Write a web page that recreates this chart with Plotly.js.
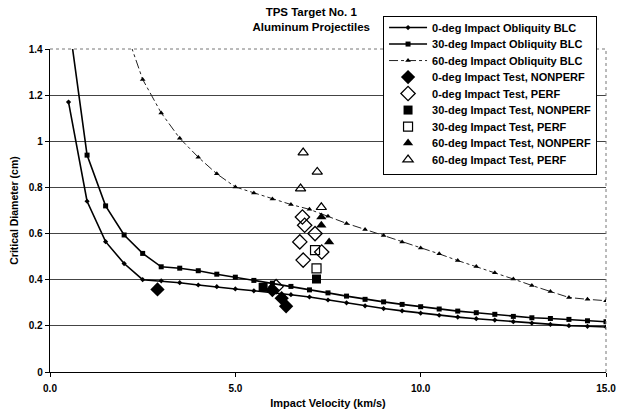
<!DOCTYPE html>
<html>
<head>
<meta charset="utf-8">
<script src="https://cdn.plot.ly/plotly-3.0.1.min.js"></script>
<style>html,body{margin:0;padding:0;background:#fff;}#chart{width:620px;height:412px;}</style>
</head>
<body>
<div id="chart"></div>
<script>
var blcVel = [0.5,1,1.5,2,2.5,3,3.5,4,4.5,5,5.5,6,6.5,7,7.5,8,8.5,9,9.5,10,10.5,11,11.5,12,12.5,13,13.5,14,14.5,15];
var blc0 = [1.17,0.74,0.565,0.47,0.40,0.395,0.387,0.377,0.37,0.36,0.352,0.345,0.335,0.325,0.312,0.30,0.287,0.275,0.265,0.255,0.246,0.238,0.231,0.225,0.218,0.212,0.206,0.201,0.198,0.195];
var blc30 = [1.53,0.94,0.72,0.594,0.514,0.456,0.45,0.439,0.424,0.411,0.397,0.385,0.371,0.356,0.343,0.329,0.315,0.304,0.293,0.283,0.273,0.264,0.257,0.25,0.241,0.235,0.232,0.228,0.222,0.218];
var blc60Vel = [2,2.5,3,3.5,4,4.5,5,5.5,6,6.5,7,7.5,8,8.5,9,9.5,10,10.5,11,11.5,12,12.5,13,13.5,14,14.5,15];
var blc60 = [1.50,1.268,1.123,1.013,0.931,0.859,0.802,0.776,0.75,0.726,0.705,0.675,0.644,0.618,0.592,0.564,0.538,0.512,0.483,0.457,0.43,0.403,0.375,0.349,0.323,0.315,0.309];

var t0NonVel = [2.9,6.0,6.25,6.37];
var t0NonDia = [0.358,0.355,0.32,0.285];
var t0PerfVel = [6.81,6.87,7.15,6.74,7.33,6.83,6.1];
var t0PerfDia = [0.672,0.636,0.60,0.564,0.52,0.485,0.37];
var t30NonVel = [5.75,7.19];
var t30NonDia = [0.367,0.403];
var t30PerfVel = [7.15,7.19];
var t30PerfDia = [0.528,0.449];
var t60NonVel = [7.32,7.32,7.53];
var t60NonDia = [0.672,0.636,0.563];
var t60PerfVel = [6.83,7.21,6.76,7.32];
var t60PerfDia = [0.951,0.867,0.795,0.714];

var names = ['0-deg Impact Obliquity BLC','30-deg Impact Obliquity BLC','60-deg Impact Obliquity BLC',
 '0-deg Impact Test, NONPERF','0-deg Impact Test, PERF','30-deg Impact Test, NONPERF','30-deg Impact Test, PERF',
 '60-deg Impact Test, NONPERF','60-deg Impact Test, PERF'];

var F = 'Liberation Sans, Arial, sans-serif';
var traces = [
 {x: blcVel, y: blc0, name: names[0], mode: 'lines+markers', line: {color: '#000', width: 1.6}, marker: {symbol: 'diamond', size: 4, color: '#000'}},
 {x: blcVel, y: blc30, name: names[1], mode: 'lines+markers', line: {color: '#000', width: 1.6}, marker: {symbol: 'square', size: 5, color: '#000'}},
 {x: blc60Vel, y: blc60, name: names[2], mode: 'lines+markers', line: {color: '#222', width: 1, dash: 'dashdot'}, marker: {symbol: 'triangle-up', size: 5, color: '#000'}},
 {x: t0NonVel, y: t0NonDia, name: names[3], mode: 'markers', marker: {symbol: 'diamond', size: 11, color: '#000'}},
 {x: t0PerfVel, y: t0PerfDia, name: names[4], mode: 'markers', marker: {symbol: 'diamond-open', size: 11, color: '#000', line: {width: 1.3}}},
 {x: t30NonVel, y: t30NonDia, name: names[5], mode: 'markers', marker: {symbol: 'square', size: 9, color: '#000'}},
 {x: t30PerfVel, y: t30PerfDia, name: names[6], mode: 'markers', marker: {symbol: 'square-open', size: 9, color: '#000', line: {width: 1.2}}},
 {x: t60NonVel, y: t60NonDia, name: names[7], mode: 'markers', marker: {symbol: 'triangle-up', size: 9, color: '#000'}},
 {x: t60PerfVel, y: t60PerfDia, name: names[8], mode: 'markers', marker: {symbol: 'triangle-up-open', size: 9, color: '#000', line: {width: 1.2}}}
];

var layout = {
 width: 620, height: 412,
 margin: {l: 50, r: 14, t: 49, b: 40},
 paper_bgcolor: '#fff', plot_bgcolor: '#fff',
 font: {family: F, size: 10, color: '#000', weight: 'bold'},
 title: {text: 'TPS Target No. 1<br>Aluminum Projectiles', x: 0.502, xref: 'container', y: 0.96, yref: 'container', yanchor: 'middle', font: {family: F, size: 11.5, weight: 'bold', color: '#000'}},
 xaxis: {range: [0, 15], dtick: 5, tick0: 0, tickformat: '.1f', showline: true, linecolor: '#000', linewidth: 1.3,
   ticks: 'outside', ticklen: 4, tickcolor: '#000', showgrid: false, zeroline: false, ticklabelstandoff: 3,
   tickfont: {family: F, size: 10, weight: 'bold'},
   title: {text: 'Impact Velocity (km/s)', font: {family: F, size: 11, weight: 'bold'}, standoff: 6}},
 yaxis: {range: [0, 1.4], dtick: 0.2, tick0: 0, showline: true, linecolor: '#000', linewidth: 1.3,
   ticks: 'outside', ticklen: 4, tickcolor: '#000', showgrid: true, gridcolor: '#444', gridwidth: 1, zeroline: false,
   tickfont: {family: F, size: 10, weight: 'bold'},
   title: {text: 'Critical Diameter (cm)', font: {family: F, size: 10.5, weight: 'bold'}, standoff: 8}},
 legend: {x: 0.599, xanchor: 'left', y: 1.102, yanchor: 'top', bgcolor: '#fff', bordercolor: '#000', borderwidth: 1,
   itemwidth: 38, font: {family: F, size: 11, weight: 'bold'}, tracegroupgap: 0},
 shapes: [
   {type: 'line', xref: 'paper', yref: 'paper', x0: 1, x1: 1, y0: 0, y1: 1, line: {color: '#777', width: 1, dash: 'dot'}},
   {type: 'line', xref: 'paper', yref: 'paper', x0: 0, x1: 1, y0: 1, y1: 1, line: {color: '#777', width: 1, dash: 'dot'}}
 ],
 showlegend: true
};

function tightenLegend(gd) {
  var leg = gd.querySelector('.legend');
  if (!leg || leg.getAttribute('data-tight')) return;
  var items = leg.querySelectorAll('.traces');
  if (items.length < 2) return;
  var re = /translate\(\s*([-\d.e]+)[,\s]+([-\d.e]+)\s*\)/;
  var m0 = re.exec(items[0].getAttribute('transform'));
  var m1 = re.exec(items[1].getAttribute('transform'));
  if (!m0 || !m1) return;
  var y0 = parseFloat(m0[2]);
  var oldStep = parseFloat(m1[2]) - y0;
  var step = 16.5;
  var lift = 4;
  items.forEach(function (el, i) {
    var m = re.exec(el.getAttribute('transform'));
    if (m) el.setAttribute('transform', 'translate(' + m[1] + ',' + (y0 - lift + i * step) + ')');
  });
  var bg = leg.querySelector('rect.bg');
  if (bg) {
    var h = parseFloat(bg.getAttribute('height'));
    var nh = h - (oldStep - step) * (items.length - 1) - lift;
    bg.setAttribute('height', nh);
  }
  leg.setAttribute('data-tight', '1');
}

Plotly.newPlot('chart', traces, layout, {displayModeBar: false, staticPlot: true}).then(function (gd) {
  tightenLegend(gd);
});
</script>
</body>
</html>
